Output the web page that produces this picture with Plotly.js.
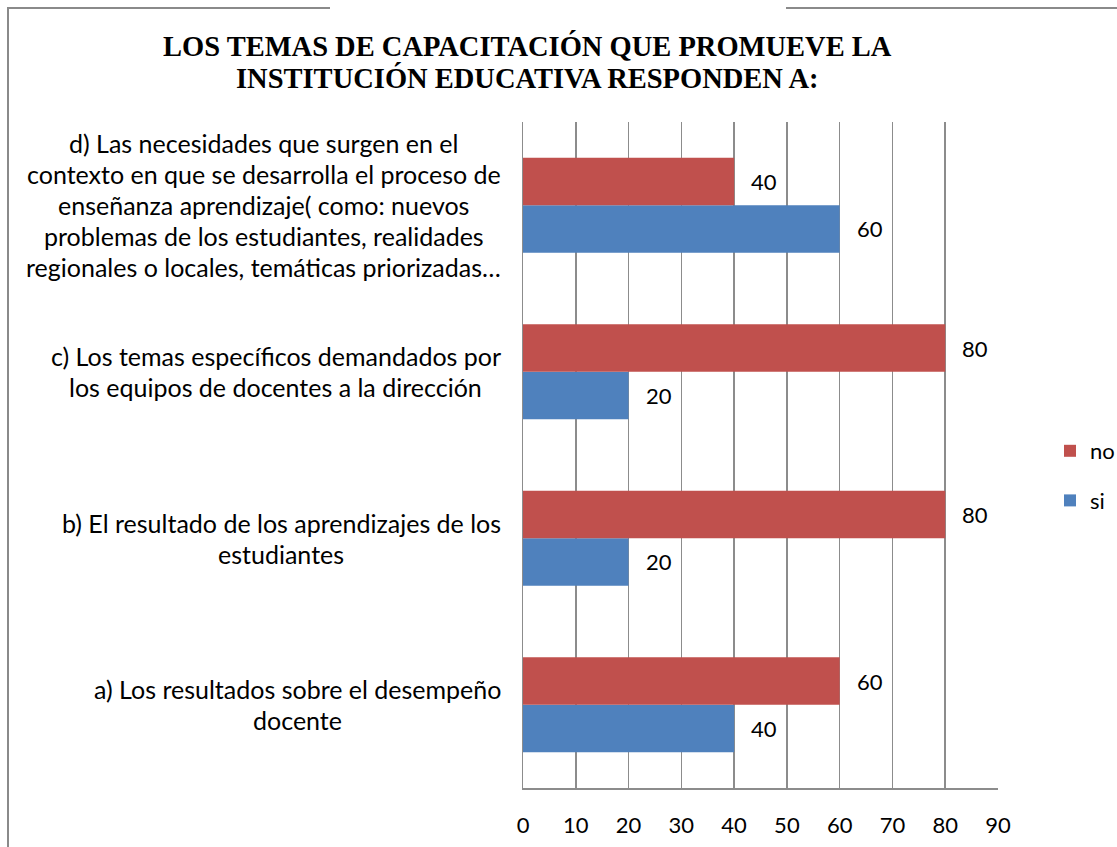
<!DOCTYPE html>
<html>
<head>
<meta charset="utf-8">
<script src="https://cdn.plot.ly/plotly-3.0.1.min.js"></script>
<style>html,body{margin:0;padding:0;background:#fff;} #chart{width:1117px;height:847px;}</style>
</head>
<body>
<div id="chart"></div>
<script>
const categories = [
  'a) Los resultados sobre el desempeño<br>docente',
  'b) El resultado de los aprendizajes de los<br>estudiantes',
  'c) Los temas específicos demandados por<br>los equipos de docentes a la dirección',
  'd) Las necesidades que surgen en el<br>contexto en que se desarrolla el proceso de<br>enseñanza aprendizaje( como: nuevos<br>problemas de los estudiantes, realidades<br>regionales o locales, temáticas priorizadas…'
];
const siValues = [40, 20, 20, 60];
const noValues = [60, 80, 80, 40];
const seriesNames = ['si', 'no'];
const tickValues = [0, 10, 20, 30, 40, 50, 60, 70, 80, 90];
const titleLines = ['LOS TEMAS DE CAPACITACIÓN QUE PROMUEVE LA', 'INSTITUCIÓN EDUCATIVA RESPONDEN A:'];

const W = 1117, H = 847;
const L = 523, R = 998, T = 122, B = 788;
const FONT = 'Lato, "Open Sans", sans-serif';
const FS = 25;   // category labels
const NS = 22;   // numbers
const px2x = p => (p - L) / (R - L);
const px2y = p => (B - p) / (B - T);

const ctx = document.createElement('canvas').getContext('2d');
ctx.font = FS + 'px Lato';

const annotations = [];
const labelRight = 501;
const lineGap = 31;
categories.forEach(cat => {
  const lines = cat.split('<br>');
  const maxW = Math.max(...lines.map(s => ctx.measureText(s).width));
  const cx = labelRight - maxW / 2;
  lines.forEach((s, i) => {
    annotations.push({
      xref: 'paper', yref: 'y', x: px2x(cx), y: cat,
      yshift: ((lines.length - 1) / 2 - i) * lineGap,
      text: s, showarrow: false, xanchor: 'center', yanchor: 'middle',
      font: {family: FONT, size: FS, color: '#000'}
    });
  });
});

const barShift = 23.5;
categories.forEach((cat, i) => {
  annotations.push({xref: 'x', yref: 'y', x: siValues[i], y: cat, yshift: -barShift, xshift: 15,
    text: String(siValues[i]), showarrow: false, xanchor: 'left', yanchor: 'middle',
    font: {family: FONT, size: NS, color: '#000'}});
  annotations.push({xref: 'x', yref: 'y', x: noValues[i], y: cat, yshift: barShift, xshift: 15,
    text: String(noValues[i]), showarrow: false, xanchor: 'left', yanchor: 'middle',
    font: {family: FONT, size: NS, color: '#000'}});
});

const titleY = [46, 78];
titleLines.forEach((s, i) => {
  annotations.push({
    xref: 'paper', yref: 'paper', x: px2x(527), y: px2y(titleY[i]), xanchor: 'center', yanchor: 'middle',
    text: '<b>' + s + '</b>', showarrow: false,
    font: {family: '"Liberation Serif", "Times New Roman", serif', size: 28.5, color: '#000'}
  });
});

const borderColor = '#8a8a8a';
const shapes = [
  {type: 'line', xref: 'paper', yref: 'paper', x0: px2x(8), x1: px2x(8), y0: px2y(7), y1: px2y(850), line: {color: borderColor, width: 2}},
  {type: 'line', xref: 'paper', yref: 'paper', x0: px2x(7), x1: px2x(330), y0: px2y(8), y1: px2y(8), line: {color: borderColor, width: 2}},
  {type: 'line', xref: 'paper', yref: 'paper', x0: px2x(786), x1: px2x(1120), y0: px2y(8), y1: px2y(8), line: {color: borderColor, width: 2}}
];

const data = [
  {type: 'bar', orientation: 'h', name: seriesNames[0], legendgroup: 'g1', legendrank: 2, y: categories, x: siValues,
   marker: {color: '#4F81BD'}, hoverinfo: 'skip'},
  {type: 'bar', orientation: 'h', name: seriesNames[1], legendgroup: 'g2', legendrank: 1, y: categories, x: noValues,
   marker: {color: '#C0504D'}, hoverinfo: 'skip'}
];

const layout = {
  width: W, height: H,
  margin: {l: L, r: W - R, t: T, b: H - B, pad: 0, autoexpand: false},
  paper_bgcolor: '#fff', plot_bgcolor: '#fff',
  font: {family: FONT, size: NS, color: '#000'},
  barmode: 'group', bargap: 0.43, bargroupgap: 0,
  xaxis: {range: [0, 90], tickvals: tickValues, ticktext: tickValues.map(String),
          showgrid: true, gridcolor: '#8c8c8c', gridwidth: 1.5,
          showline: true, linecolor: '#8c8c8c', linewidth: 1.5,
          zeroline: false, ticks: '', ticklabelstandoff: 17,
          tickfont: {family: FONT, size: NS, color: '#000'}, fixedrange: true},
  yaxis: {type: 'category', categoryarray: categories, range: [-0.5, 3.5],
          showticklabels: false, showgrid: false, zeroline: false,
          showline: true, linecolor: '#8c8c8c', linewidth: 1.5, ticks: '', fixedrange: true},
  legend: {x: px2x(1050), y: px2y(430), xanchor: 'left', yanchor: 'top',
           traceorder: 'grouped', tracegroupgap: 18,
           font: {family: FONT, size: NS, color: '#000'},
           bgcolor: 'rgba(0,0,0,0)', itemwidth: 30},
  annotations: annotations,
  shapes: shapes,
  showlegend: true
};

Plotly.newPlot('chart', data, layout, {displayModeBar: false, staticPlot: true});
</script>
</body>
</html>
